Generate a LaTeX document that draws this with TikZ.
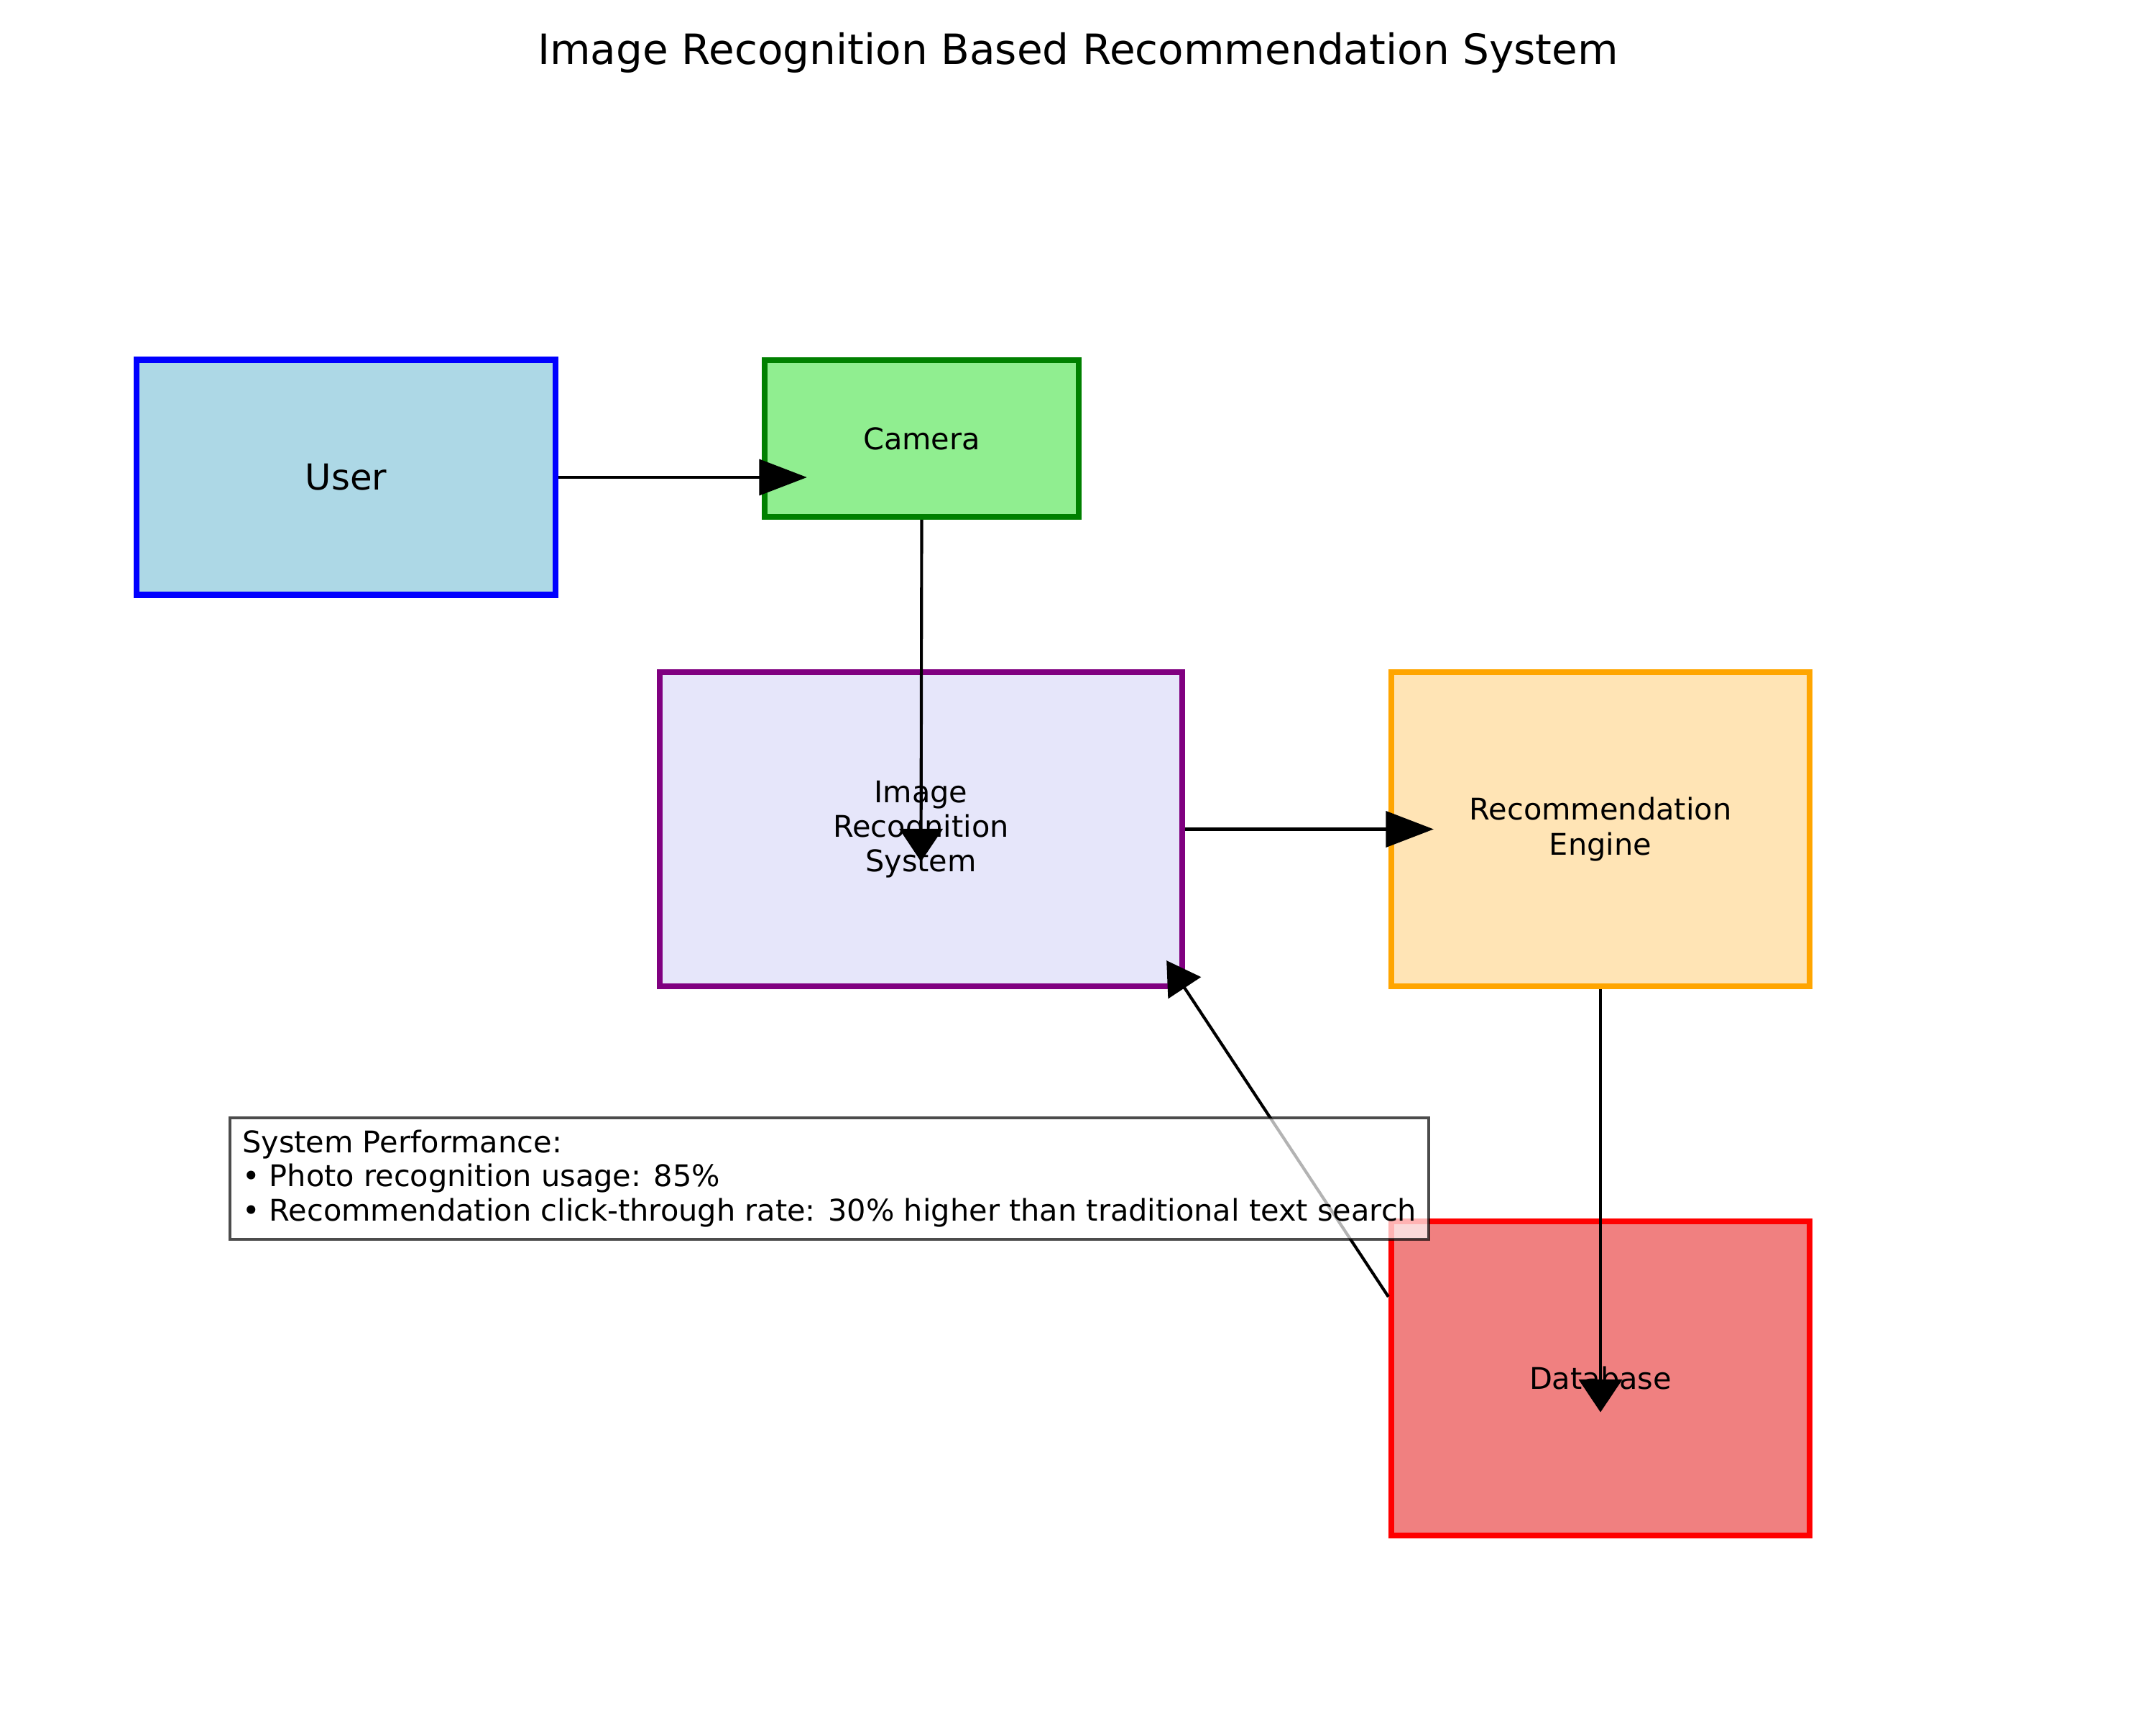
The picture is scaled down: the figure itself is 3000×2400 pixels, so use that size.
\documentclass[tikz,border=0pt]{standalone}
\usepackage{fontspec}
\setmainfont{DejaVu Sans}
\usetikzlibrary{arrows.meta,calc}

\definecolor{userfill}{HTML}{ADD8E6}
\definecolor{camfill}{HTML}{90EE90}
\definecolor{camline}{HTML}{008000}
\definecolor{irsfill}{HTML}{E6E6FA}
\definecolor{irsline}{HTML}{800080}
\definecolor{recfill}{HTML}{FFE4B5}
\definecolor{recline}{HTML}{FFA500}
\definecolor{dbfill}{HTML}{F08080}
\def\px{0.0084667cm}

\begin{document}
\begin{tikzpicture}[x=\px, y=-\px,
    box/.style={draw, line width=2pt, inner sep=0pt, align=center,
      font=\fontsize{10}{11.6}\selectfont},
    flowh/.style={line width=1pt, -{Triangle[length=16pt,width=12pt]}},
    flowv/.style={line width=1pt, -{Triangle[length=11pt,width=14.5pt]}},
    flowd/.style={line width=1pt, -{Triangle[length=11pt,width=13pt]}}]
  \useasboundingbox (0,0) rectangle (3000,2400);
  % title
  \node[anchor=base, font=\fontsize{14}{17}\selectfont] (title) at (1500,90)
    {Image Recognition Based Recommendation System};
  % blocks
  \node[box, fill=userfill, draw=blue, minimum width=583*\px, minimum height=327*\px,
    font=\fontsize{12}{14}\selectfont] (user) at (481.5,664) {User};
  \node[box, fill=camfill, draw=camline, minimum width=437*\px, minimum height=218*\px]
    (camera) at (1282.5,610) {Camera};
  \node[box, fill=irsfill, draw=irsline, minimum width=727*\px, minimum height=437*\px]
    (irs) at (1281.5,1153.5) {Image\\Recognition\\System};
  \node[box, fill=recfill, draw=recline, minimum width=582*\px, minimum height=437*\px]
    (rec) at (2227,1153.5) {Recommendation\\Engine};
  \node[box, fill=dbfill, draw=red, minimum width=582*\px, minimum height=437*\px]
    (db) at (2227,1917.5) {Database};
  % flows
  \draw[flowh] (user.east) -- ($(user.east -| camera.west)+(63,0)$);
  \draw[flowv] (camera.south) -- ($(irs.center)+(0,45)$);
  \draw[flowh] (irs.east) -- ($(irs.east -| rec.west)+(63,0)$);
  \draw[flowv] (rec.south) -- ($(db.center)+(0,47)$);
  \draw[flowd] ($(db.north west)+(0,109)$) -- ($(irs.south east)+(-26,-40)$);
  % performance note
  \node[anchor=north west, draw=black, line width=1pt, draw opacity=0.7,
    fill=white, fill opacity=0.7, text opacity=1, inner sep=17*\px, align=left,
    font=\fontsize{10}{11.4}\selectfont] (perf) at (318,1553)
    {System Performance:\\
     • Photo recognition usage: 85\%\\
     • Recommendation click-through rate: 30\% higher than traditional text search};
\end{tikzpicture}
\end{document}
